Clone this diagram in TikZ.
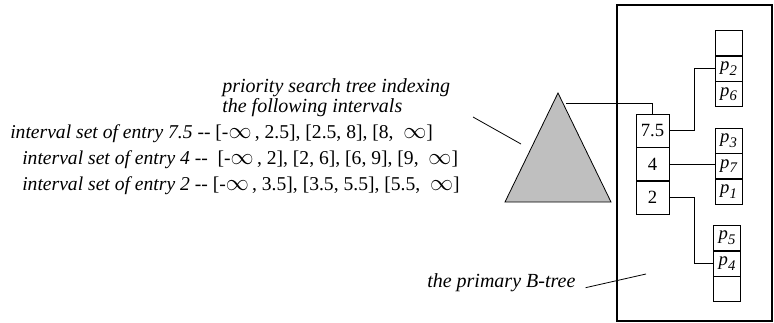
\documentclass[tikz,border=0pt]{standalone}
\usepackage{fontspec}
\setmainfont{Liberation Serif}
\usepackage{tikz}
\usetikzlibrary{positioning}
\tikzset{
  keycell/.style ={rectangle, draw, fill=white, minimum width=24.75pt,
                   minimum height=24.75pt, inner sep=0pt, font=\fontsize{14}{16}\selectfont},
  leafcell/.style={rectangle, draw, fill=white, minimum width=20.25pt,
                   minimum height=18.75pt, inner sep=0pt, font=\fontsize{14}{16}\selectfont\itshape},
  lbl/.style     ={inner sep=0pt, anchor=west, font=\fontsize{15}{17}\selectfont\itshape},
  row/.style     ={inner sep=0pt, anchor=west, font=\fontsize{14.7}{17}\selectfont},
  ln/.style      ={draw, line width=0.6pt},
  frame/.style   ={draw, line width=2.2pt},
  tri/.style     ={draw, fill=black!25, line width=0.6pt, line join=miter}
}
\newcommand{\infsym}{\smash{\fontsize{17}{17}\selectfont$\infty$}}
\newcommand{\pg}[1]{p\raisebox{-3.5pt}{\fontsize{11}{11}\selectfont #1}}
\begin{document}
\begin{tikzpicture}[x=0.75pt,y=-0.75pt]
\useasboundingbox (0,0) rectangle (774,322);
% outer frame of the primary B-tree
\draw[frame] (617,5) rectangle (772,321);
% root node of the B-tree
\node[keycell] (k75) at (652.5,130.5) {7.5};
\node[keycell, below=0pt of k75] (k4) {4};
\node[keycell, below=0pt of k4] (k2) {2};
% leaf pages
\node[leafcell] (e1) at (728.5,43) {};
\node[leafcell, below=0pt of e1] (p2) {\pg{2}};
\node[leafcell, below=0pt of p2] (p6) {\pg{6}};
\node[leafcell] (p3) at (728.5,140.5) {\pg{3}};
\node[leafcell, below=0pt of p3] (p7) {\pg{7}};
\node[leafcell, below=0pt of p7] (p1) {\pg{1}};
\node[leafcell] (p5) at (727,238) {\pg{5}};
\node[leafcell, below=0pt of p5] (p4) {\pg{4}};
\node[leafcell, below=0pt of p4] (e2) {};
\draw[ln] (k75.east) -- ++(25,0) |- (p2.west);
\draw[ln] (k4.east) -- (k4.east -| p7.west);
\draw[ln] (k2.east) -- ++(25,0) |- (p4.west);
% priority search tree
\draw[tri] (558,93) coordinate (apex) -- (611,202) -- (505,202) -- cycle;
\coordinate (pst) at (566,103);
\draw[ln] (pst) -| (k75.north);
% labels
\node[lbl] (pstlbl) at (222,88) {priority search tree indexing};
\node[lbl] (pstlbl2) at (222,108) {the following intervals};
\node[row] (r75) at (10,134) {\textit{interval set of entry 7.5} -{}- [-\infsym\,, 2.5], [2.5, 8], [8, ~\infsym]};
\node[row] (r4) at (22,160) {\textit{interval set of entry 4} -{}- ~[-\infsym\,, 2], [2, 6], [6, 9], [9, ~\infsym]};
\node[row] (r2) at (22,186) {\textit{interval set of entry 2} -{}- [-\infsym\,, 3.5], [3.5, 5.5], [5.5, ~\infsym]};
\coordinate (a1) at (473,117);
\coordinate (a2) at (521,144);
\draw[ln] (a1) -- (a2);
\node[lbl] (btlbl) at (427,283) {the primary B-tree};
\coordinate (b1) at (646,274);
\draw[ln] ([xshift=7.5pt,yshift=-3.5pt]btlbl.east) -- (b1);
\end{tikzpicture}
\end{document}
